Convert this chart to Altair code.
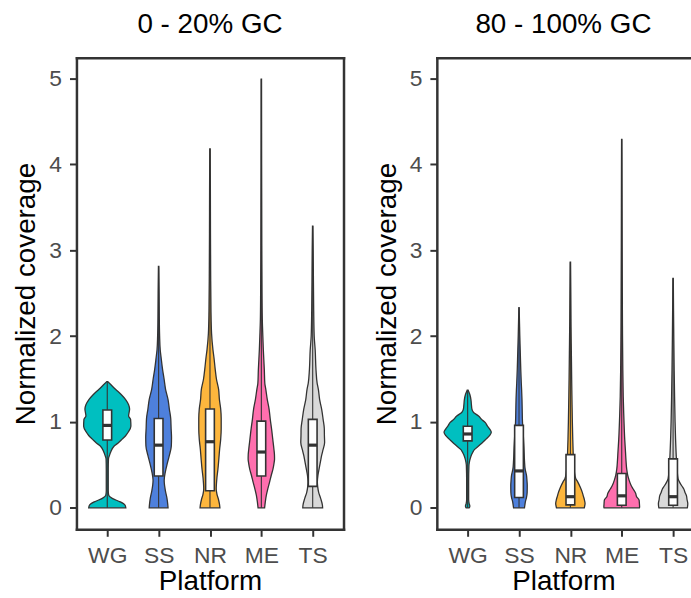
import altair as alt
import pandas as pd

platforms = ["WG", "SS", "NR", "ME", "TS"]
colors = ["#00BFC0", "#4E80DC", "#FDB63D", "#FF6FAE", "#D9D9D9"]
panels = ["0 - 20% GC", "80 - 100% GC"]

# ---- violin profiles: coverage level (y) and relative density (d)
lo_WG_y = [0, 0.03, 0.07, 0.11, 0.145, 0.2, 0.3, 0.45, 0.57, 0.62, 0.65, 0.72, 0.76, 0.80, 0.84, 0.88, 0.95, 1.03, 1.07, 1.11, 1.15, 1.20, 1.26, 1.32, 1.38, 1.43, 1.47]
lo_WG_d = [18.7, 18, 13, 5, 1.5, 1.0, 1.0, 1.0, 1.2, 2.5, 3.5, 7, 11.5, 15, 18.5, 21, 23.8, 23.5, 21.5, 22, 22.5, 21.5, 18.5, 14, 8.3, 4, 0.5]
lo_SS_y = [0, 0.04, 0.12, 0.2, 0.32, 0.42, 0.52, 0.62, 0.72, 0.82, 0.92, 1.04, 1.15, 1.26, 1.38, 1.5, 1.61, 1.75, 1.84, 2.0, 2.2, 2.5, 2.81]
lo_SS_d = [9.5, 9.2, 8.3, 6.8, 5.6, 6.8, 8.8, 11, 12.8, 13, 12.6, 12.2, 10.8, 9.5, 7, 5.5, 4, 2.5, 1.6, 1.0, 0.7, 0.5, 0.2]
lo_NR_y = [0, 0.04, 0.1, 0.16, 0.22, 0.35, 0.45, 0.58, 0.68, 0.8, 0.92, 1.04, 1.15, 1.26, 1.38, 1.5, 1.61, 1.75, 1.84, 2.03, 2.3, 2.7, 3.2, 3.7, 4.18]
lo_NR_d = [10, 9.6, 8.5, 7, 6.3, 7, 8, 9, 9.7, 10.8, 11.3, 11.3, 10.8, 9.5, 8.7, 6.5, 5.3, 4, 3, 1.6, 1.0, 0.7, 0.5, 0.4, 0.2]
lo_ME_y = [0, 0.07, 0.145, 0.22, 0.3, 0.38, 0.45, 0.52, 0.57, 0.62, 0.68, 0.8, 0.92, 1.03, 1.15, 1.26, 1.38, 1.45, 1.61, 1.84, 2.0, 2.18, 2.5, 3.0, 3.5, 4.0, 4.5, 4.99]
lo_ME_d = [3.3, 4, 5, 6.5, 8.3, 10, 11.7, 12.8, 13.3, 13.2, 12.7, 11.5, 10.3, 9, 7.8, 6, 4.5, 3.5, 3, 2, 1.5, 1, 0.7, 0.5, 0.4, 0.3, 0.25, 0.2]
lo_TS_y = [0, 0.03, 0.11, 0.18, 0.25, 0.30, 0.38, 0.45, 0.55, 0.61, 0.68, 0.76, 0.84, 0.92, 1.03, 1.15, 1.26, 1.38, 1.45, 1.61, 1.84, 2.0, 2.3, 2.7, 3.0, 3.28]
lo_TS_d = [10, 9.8, 8, 6, 5, 4.7, 5.3, 6.4, 8, 9, 10.5, 12, 11.8, 11.7, 10.5, 9, 7, 5.7, 4.5, 3.3, 2.5, 1.5, 1.0, 0.7, 0.5, 0.2]

hi_WG_y = [0, 0.02, 0.05, 0.1, 0.3, 0.49, 0.53, 0.57, 0.62, 0.65, 0.68, 0.72, 0.76, 0.80, 0.84, 0.88, 0.92, 0.96, 0.99, 1.03, 1.07, 1.11, 1.15, 1.2, 1.26, 1.32, 1.37]
hi_WG_d = [1.5, 2.2, 1.5, 1.0, 1.0, 1.3, 1.7, 2.5, 4, 5.3, 7, 11, 15, 18.5, 22, 23.8, 22, 19.5, 18, 14, 11, 6, 4.3, 3.8, 3.3, 2.2, 0.5]
hi_SS_y = [0, 0.04, 0.07, 0.12, 0.18, 0.26, 0.32, 0.38, 0.45, 0.55, 0.7, 0.85, 1.0, 1.15, 1.26, 1.38, 1.45, 1.6, 1.84, 2.0, 2.15, 2.33]
hi_SS_d = [5.5, 6, 6.4, 7.5, 8.2, 8.3, 8, 7.5, 6.2, 5.5, 5, 4.3, 3.5, 3.2, 3.0, 2.6, 2.3, 1.8, 1.2, 0.8, 0.5, 0.15]
hi_NR_y = [0, 0.01, 0.05, 0.1, 0.14, 0.18, 0.24, 0.3, 0.34, 0.42, 0.5, 0.65, 0.8, 1.0, 1.2, 1.5, 1.8, 2.1, 2.5, 2.86]
hi_NR_d = [14, 14.2, 14.8, 14, 13, 12, 10, 7.5, 5.5, 4, 3.3, 2.8, 2.4, 2, 1.7, 1.3, 1.0, 0.7, 0.45, 0.2]
hi_ME_y = [0, 0.01, 0.05, 0.09, 0.13, 0.17, 0.22, 0.26, 0.32, 0.38, 0.45, 0.55, 0.65, 0.8, 1.0, 1.1, 1.3, 1.6, 2.0, 2.5, 3.0, 3.5, 4.0, 4.29]
hi_ME_d = [17.8, 18, 17.8, 17.5, 15, 14, 11.5, 9.5, 7.5, 6, 5, 4.3, 3.8, 3, 2.3, 2, 1.5, 1.1, 0.8, 0.6, 0.45, 0.35, 0.25, 0.15]
hi_TS_y = [0, 0.01, 0.05, 0.1, 0.14, 0.18, 0.22, 0.26, 0.3, 0.34, 0.42, 0.5, 0.6, 0.8, 1.0, 1.3, 1.6, 2.0, 2.3, 2.67]
hi_TS_d = [14.3, 14.5, 14.8, 14, 13.5, 12, 10.8, 8.5, 6.5, 5, 4.2, 3.7, 3.2, 2.5, 2, 1.5, 1.1, 0.7, 0.45, 0.2]

# ---- box statistics (per platform, in order of `platforms`)
lo_min = [0, 0, 0, 0, 0]
lo_q1 = [0.79, 0.37, 0.20, 0.37, 0.25]
lo_med = [0.96, 0.73, 0.77, 0.65, 0.73]
lo_q3 = [1.14, 1.04, 1.15, 1.01, 1.03]
lo_max = [1.47, 2.81, 4.18, 4.99, 3.28]
hi_min = [0, 0, 0, 0, 0]
hi_q1 = [0.78, 0.12, 0.035, 0.03, 0.03]
hi_med = [0.86, 0.43, 0.13, 0.14, 0.13]
hi_q3 = [0.95, 0.96, 0.62, 0.40, 0.57]
hi_max = [1.37, 2.33, 2.86, 4.29, 2.67]

VIOLIN_HALF = 0.46   # half-width (category units) of the widest violin
BOX_HALF = 0.085
DARK = "#333333"
FONT = "Liberation Sans"

profiles = {
    panels[0]: {"WG": (lo_WG_y, lo_WG_d), "SS": (lo_SS_y, lo_SS_d), "NR": (lo_NR_y, lo_NR_d),
                "ME": (lo_ME_y, lo_ME_d), "TS": (lo_TS_y, lo_TS_d)},
    panels[1]: {"WG": (hi_WG_y, hi_WG_d), "SS": (hi_SS_y, hi_SS_d), "NR": (hi_NR_y, hi_NR_d),
                "ME": (hi_ME_y, hi_ME_d), "TS": (hi_TS_y, hi_TS_d)},
}
stats = {panels[0]: (lo_min, lo_q1, lo_med, lo_q3, lo_max),
         panels[1]: (hi_min, hi_q1, hi_med, hi_q3, hi_max)}

dmax = max(max(d) for p in profiles.values() for (_, d) in p.values())

vrows, brows = [], []
for panel in panels:
    for i, plat in enumerate(platforms):
        ys, ds = profiles[panel][plat]
        for y, d in zip(ys, ds):
            h = d / dmax * VIOLIN_HALF
            vrows.append({"panel": panel, "platform": plat, "idx": i + 1, "cov": y,
                          "left": i + 1 - h, "right": i + 1 + h})
        mn, q1, md, q3, mx = (s[i] for s in stats[panel])
        brows.append({"panel": panel, "platform": plat, "idx": i + 1, "ymin": mn, "q1": q1,
                      "med": md, "q3": q3, "ymax": mx,
                      "bl": i + 1 - BOX_HALF, "br": i + 1 + BOX_HALF})
vdf = pd.DataFrame(vrows)
bdf = pd.DataFrame(brows)

label_expr = "['WG','SS','NR','ME','TS'][datum.value - 1]"
yscale = alt.Scale(domain=[-0.25, 5.24], nice=False, zero=False)
color = alt.Color("platform:N", scale=alt.Scale(domain=platforms, range=colors), legend=None)


def make_panel(panel, width, right_border):
    xmax = 0.4 + 5.2 * width / 269.0
    xscale = alt.Scale(domain=[0.4, xmax], nice=False, zero=False)
    v = vdf[vdf.panel == panel]
    b = bdf[bdf.panel == panel]

    violin = alt.Chart(v).mark_area(orient="horizontal", stroke=DARK, strokeWidth=1.3,
                                    interpolate="monotone").encode(
        y=alt.Y("cov:Q", scale=yscale,
                axis=alt.Axis(values=[0, 1, 2, 3, 4, 5], title="Normalized coverage", grid=False)),
        x=alt.X("left:Q", scale=xscale,
                axis=alt.Axis(values=[1, 2, 3, 4, 5], labelExpr=label_expr, title="Platform", grid=False)),
        x2="right:Q",
        color=color,
        detail="platform:N",
    )
    whisker = alt.Chart(b).mark_rule(color=DARK, strokeWidth=1.1).encode(
        x=alt.X("idx:Q", scale=xscale, axis=None),
        y=alt.Y("ymin:Q", scale=yscale, axis=None),
        y2="ymax:Q",
    )
    box = alt.Chart(b).mark_rect(fill="white", stroke=DARK, strokeWidth=1.6).encode(
        x=alt.X("bl:Q", scale=xscale, axis=None), x2="br:Q",
        y=alt.Y("q1:Q", scale=yscale, axis=None), y2="q3:Q",
    )
    median = alt.Chart(b).mark_rule(color=DARK, strokeWidth=3.2).encode(
        x=alt.X("bl:Q", scale=xscale, axis=None), x2="br:Q",
        y=alt.Y("med:Q", scale=yscale, axis=None),
    )
    border_axis_y = (alt.Axis(orient="right", labels=False, ticks=False, title=None, grid=False)
                     if right_border else None)
    border = alt.Chart(b).mark_point(opacity=0).encode(
        x=alt.X("idx:Q", scale=xscale,
                axis=alt.Axis(orient="top", labels=False, ticks=False, title=None, grid=False)),
        y=alt.Y("med:Q", scale=yscale, axis=border_axis_y),
    )
    return alt.layer(violin, whisker, box, median, border).resolve_axis(
        x="independent", y="independent"
    ).properties(
        width=width, height=475,
        title=alt.TitleParams(panel, fontSize=28, font=FONT, fontWeight="normal",
                              color="black", anchor="middle", offset=19),
    )


p1 = make_panel(panels[0], 269, True)
p2 = make_panel(panels[1], 255, False)

chart = alt.hconcat(p1, p2, spacing=30).properties(
    padding={"left": 13, "top": 9, "right": 0, "bottom": 0}
).configure_view(stroke=None).configure_axis(
    domainColor=DARK, domainWidth=2.5, domainCap="square",
    tickColor=DARK, tickWidth=2, tickSize=7,
    labelFont=FONT, labelFontSize=23, labelColor="#4D4D4D", labelPadding=8,
    titleFont=FONT, titleFontSize=28, titleFontWeight="normal", titleColor="black",
).configure_axisY(titlePadding=8).configure_axisX(titlePadding=1)

chart.save("out.html", embed_options={"renderer": "svg", "actions": False})
